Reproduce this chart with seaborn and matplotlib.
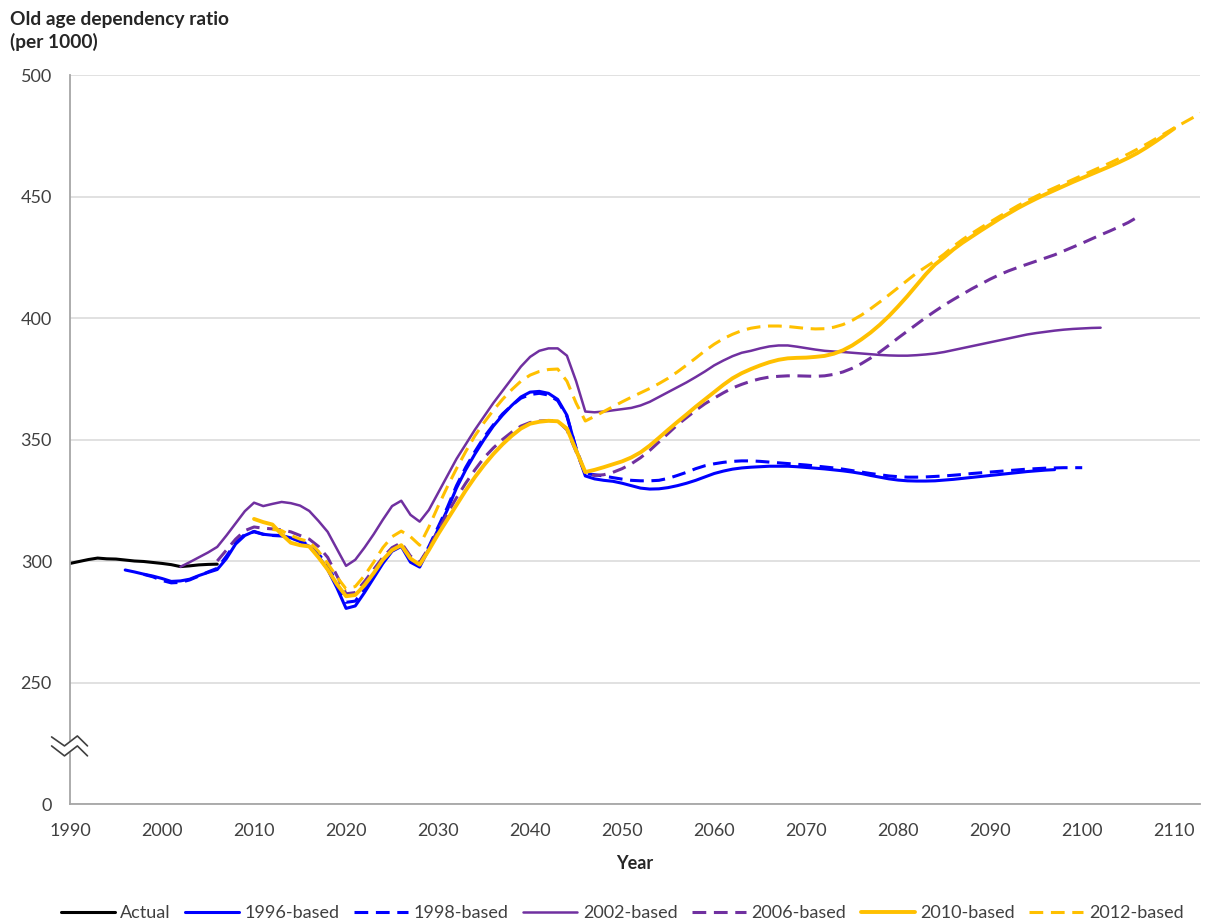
"""
Old age dependency ratio projections (per 1000), actual vs successive projections
"""

import numpy as np
import pandas as pd
import matplotlib.pyplot as plt
import seaborn as sns

# ---- data (annual) ----
series_names = ["Actual", "1996-based", "1998-based", "2002-based",
                "2006-based", "2010-based", "2012-based"]
start_years = [1990, 1996, 1998, 2002, 2006, 2010, 2012]

actual = [299.0, 299.8, 300.6, 301.2, 300.9, 300.8, 300.4, 300.0, 299.8, 299.4,
          299.0, 298.5, 297.7, 298.0, 298.4, 298.6, 298.7]

based_1996 = [296.3, 295.5, 294.6, 293.8, 292.8, 291.6, 291.8, 292.5, 294.0, 295.3,
              296.5, 301.0, 307.0, 310.5, 312.2, 311.0, 310.6, 310.5, 309.5, 308.0,
              306.0, 302.0, 296.5, 289.0, 280.5, 281.5, 287.0, 293.0, 299.0, 304.0,
              306.0, 299.5, 297.5, 305.0, 313.0, 321.0, 330.0, 337.5, 344.0, 350.0,
              355.5, 360.0, 364.0, 367.5, 369.5, 369.8, 369.0, 366.5, 360.0, 346.0,
              335.0, 333.8, 333.2, 332.8, 332.0, 331.0, 330.0, 329.6, 329.7, 330.2,
              331.0, 332.0, 333.2, 334.6, 336.0, 337.0, 337.8, 338.3, 338.6, 338.8,
              339.0, 339.0, 339.0, 338.8, 338.5, 338.2, 337.9, 337.5, 337.1, 336.6,
              336.0, 335.2, 334.5, 333.8, 333.3, 333.0, 332.9, 332.9, 333.0, 333.3,
              333.6, 334.0, 334.4, 334.8, 335.2, 335.6, 336.0, 336.4, 336.8, 337.1,
              337.4, 337.6]

based_1998 = [294.5, 293.5, 292.0, 291.0, 291.2, 292.2, 293.8, 295.5, 297.0, 302.0,
              307.5, 311.0, 312.0, 311.0, 310.5, 310.3, 309.5, 308.5, 306.5, 303.0,
              298.0, 291.0, 283.0, 283.5, 288.5, 294.0, 300.0, 304.5, 306.5, 300.5,
              298.5, 306.0, 314.0, 322.0, 331.0, 338.5, 345.0, 351.0, 356.0, 360.5,
              364.0, 367.0, 368.5, 369.0, 368.3, 366.0, 359.5, 346.5, 336.0, 335.5,
              335.0, 334.3, 333.7, 333.2, 333.0, 333.0, 333.2, 334.0, 335.2, 336.5,
              338.0, 339.2, 340.0, 340.6, 341.0, 341.2, 341.2, 341.0, 340.7, 340.4,
              340.1, 339.8, 339.5, 339.1, 338.7, 338.3, 337.8, 337.2, 336.6, 336.0,
              335.5, 335.0, 334.7, 334.5, 334.5, 334.6, 334.8, 335.0, 335.3, 335.6,
              336.0, 336.3, 336.6, 336.9, 337.2, 337.5, 337.8, 338.0, 338.2, 338.3,
              338.4, 338.4, 338.4]

based_2002 = [297.6, 299.5, 301.5, 303.5, 305.8, 310.5, 315.5, 320.5, 324.0, 322.6,
              323.5, 324.3, 323.8, 322.8, 320.6, 316.5, 312.0, 305.0, 298.0, 300.5,
              305.5, 311.0, 317.0, 322.6, 324.8, 319.0, 316.2, 321.0, 328.0, 335.0,
              342.0, 348.0, 354.0, 359.5, 365.0, 370.0, 375.0, 380.0, 384.0, 386.5,
              387.5, 387.5, 384.5, 374.0, 361.5, 361.2, 361.5, 362.0, 362.5, 363.0,
              364.0, 365.5, 367.5, 369.5, 371.5, 373.5, 375.7, 378.0, 380.5, 382.5,
              384.3, 385.7, 386.5, 387.5, 388.3, 388.7, 388.7, 388.2, 387.6, 387.0,
              386.5, 386.2, 386.0, 385.7, 385.4, 385.1, 384.8, 384.6, 384.5, 384.5,
              384.7, 385.0, 385.4, 386.0, 386.8, 387.6, 388.4, 389.2, 390.0, 390.8,
              391.6, 392.4, 393.2, 393.8, 394.3, 394.8, 395.2, 395.5, 395.7, 395.9,
              396.0]

based_2006 = [300.0, 304.5, 309.0, 312.5, 314.0, 313.5, 313.2, 312.8, 312.0, 310.5,
              309.0, 306.0, 301.5, 294.0, 286.5, 287.0, 291.5, 296.5, 301.5, 305.5,
              307.5, 302.0, 299.5, 305.5, 312.5, 319.5, 326.0, 332.0, 337.5, 342.5,
              346.5, 350.0, 353.0, 355.5, 357.0, 357.6, 357.8, 357.6, 354.0, 345.0,
              336.0, 335.2, 335.5, 336.5, 338.0, 340.0, 342.5, 345.5, 349.0, 352.5,
              356.0, 359.0, 362.0, 364.7, 367.0, 369.2, 371.2, 372.7, 374.0, 375.0,
              375.7, 376.0, 376.2, 376.2, 376.1, 376.0, 376.2, 376.8, 377.8, 379.3,
              381.2, 383.5, 386.0, 388.8, 391.8, 394.6, 397.4, 400.2, 402.8, 405.3,
              407.6, 409.8, 412.0, 414.0, 416.0, 417.8, 419.4, 420.8, 422.1, 423.4,
              424.7, 426.0, 427.6, 429.2, 430.8, 432.5, 434.2, 435.8, 437.5, 439.3,
              441.5]

based_2010 = [317.3, 316.0, 315.0, 311.0, 307.5, 306.5, 306.0, 301.5, 296.5, 290.5,
              285.5, 286.0, 290.0, 295.0, 300.5, 304.5, 306.5, 301.0, 298.5, 304.5,
              311.0, 317.0, 323.0, 329.0, 334.5, 339.5, 344.0, 348.0, 351.5, 354.5,
              356.5, 357.3, 357.7, 357.5, 354.5, 345.5, 336.6, 337.5, 338.6, 339.8,
              341.0, 342.6, 344.7, 347.5, 350.7, 354.0, 357.2, 360.3, 363.5, 366.5,
              369.5, 372.5, 375.2, 377.3, 379.0, 380.5, 381.8, 382.8, 383.4, 383.6,
              383.7, 384.0, 384.4, 385.3, 386.7, 388.7, 391.2, 394.0, 397.2, 400.8,
              404.8, 409.0, 413.5, 418.0, 422.0, 425.0, 428.2, 431.0, 433.5, 436.0,
              438.4, 440.8, 443.0, 445.2, 447.2, 449.1, 450.9, 452.6, 454.3, 456.0,
              457.6, 459.2, 460.8, 462.4, 464.1, 465.9, 467.9, 470.2, 472.7, 475.3,
              478.0]

based_2012 = [313.0, 312.5, 310.5, 309.0, 308.0, 304.0, 299.0, 293.5, 288.5, 289.5,
              294.0, 299.5, 305.5, 310.0, 312.3, 310.0, 306.5, 314.0, 322.5, 330.5,
              338.0, 345.0, 351.5, 357.0, 362.0, 366.5, 370.5, 374.0, 376.5, 378.0,
              378.8, 379.0, 374.0, 365.0, 357.6, 359.5, 361.5, 363.5, 365.5, 367.4,
              369.2, 371.0, 373.0, 375.2, 377.8, 380.6, 383.5, 386.5, 389.2, 391.5,
              393.3, 394.8, 395.8, 396.4, 396.7, 396.7, 396.5, 396.1, 395.7, 395.5,
              395.6, 396.2, 397.3, 399.0, 401.2, 403.8, 406.6, 409.5, 412.5, 415.5,
              418.5, 421.0, 423.5, 426.3, 429.5, 432.3, 434.8, 437.2, 439.5, 441.8,
              444.0, 446.2, 448.2, 450.1, 451.9, 453.6, 455.3, 457.0, 458.7, 460.4,
              462.1, 463.8, 465.6, 467.5, 469.5, 471.6, 473.8, 476.0, 478.2, 480.3,
              482.4, 484.4]

all_values = [actual, based_1996, based_1998, based_2002, based_2006, based_2010, based_2012]

# y axis is broken: "0" sits one step (50) below 250
y_ticks = [200, 250, 300, 350, 400, 450, 500]
y_tick_labels = ["0", "250", "300", "350", "400", "450", "500"]
x_ticks = list(range(1990, 2111, 10))

# ---- styles ----
palette = {"Actual": "#000000", "1996-based": "#0000FF", "1998-based": "#0000FF",
           "2002-based": "#7030A0", "2006-based": "#7030A0",
           "2010-based": "#FFC000", "2012-based": "#FFC000"}
dash_map = {"Actual": "", "1996-based": "", "1998-based": (4.5, 2.5),
            "2002-based": "", "2006-based": (4.5, 2.5),
            "2010-based": "", "2012-based": (4.5, 2.5)}
width_map = {"Actual": 2.2, "1996-based": 2.2, "1998-based": 2.2,
             "2002-based": 1.8, "2006-based": 2.2,
             "2010-based": 2.8, "2012-based": 2.2}

frames = []
for name, start, vals in zip(series_names, start_years, all_values):
    frames.append(pd.DataFrame({"year": np.arange(start, start + len(vals)),
                                "ratio": vals, "series": name}))
df = pd.concat(frames, ignore_index=True)

sns.set_style("white")
plt.rcParams["font.family"] = ["Lato", "DejaVu Sans"]
text_color = "#404040"
axis_color = "#A6A6A6"

fig = plt.figure(figsize=(12.11, 9.21), dpi=100)
ax = fig.add_axes([70 / 1211, 1 - 804 / 921, 1130 / 1211, 729 / 921])

sns.lineplot(data=df, x="year", y="ratio", hue="series", style="series",
             size="series", palette=palette, dashes=dash_map, sizes=width_map,
             hue_order=series_names, style_order=series_names,
             size_order=series_names, legend=False, ax=ax)

ax.set_xlim(1990, 2112.8)
ax.set_ylim(200, 500)
ax.set_yticks(y_ticks)
ax.set_yticklabels(y_tick_labels)
ax.set_xticks(x_ticks)
ax.yaxis.grid(True, color="#D9D9D9", linewidth=1.1)
ax.set_axisbelow(True)

for side in ["top", "right"]:
    ax.spines[side].set_visible(False)
for side in ["left", "bottom"]:
    ax.spines[side].set_color(axis_color)
    ax.spines[side].set_linewidth(1.3)

ax.tick_params(axis="both", direction="out", length=5, width=1.2,
               color=axis_color, labelsize=13, labelcolor=text_color)
ax.tick_params(axis="y", pad=8)
ax.tick_params(axis="x", pad=9)

ax.set_xlabel("Year", fontsize=13, fontweight="bold", color="#262626", labelpad=11)
ax.set_ylabel("")

# axis break symbol between 0 and 250
zig_x = [1988.0, 1989.4, 1990.8, 1991.9]
zig_top = [227.6, 223.9, 228.0, 223.9]
zig_bot = [223.9, 219.8, 223.9, 219.8]
ax.fill(zig_x + zig_x[::-1], zig_top + zig_bot[::-1], color="white",
        zorder=5, clip_on=False)
ax.plot(zig_x, zig_top, color="#404040", lw=1.2, zorder=6, clip_on=False)
ax.plot(zig_x, zig_bot, color="#404040", lw=1.2, zorder=6, clip_on=False)

fig.text(10 / 1211, 1 - 11 / 921, "Old age dependency ratio\n(per 1000)",
         ha="left", va="top", fontsize=13.8, fontweight="bold", color="#262626",
         linespacing=1.35)

ax.legend(handles=ax.lines[:len(series_names)], labels=series_names,
          loc="lower center", bbox_to_anchor=(0.5 - 13 / 1130, -0.183),
          ncol=7, frameon=False, fontsize=13, handlelength=3.0,
          handletextpad=0.3, columnspacing=0.8, labelcolor=text_color)

fig.savefig("out.png", dpi=100)
